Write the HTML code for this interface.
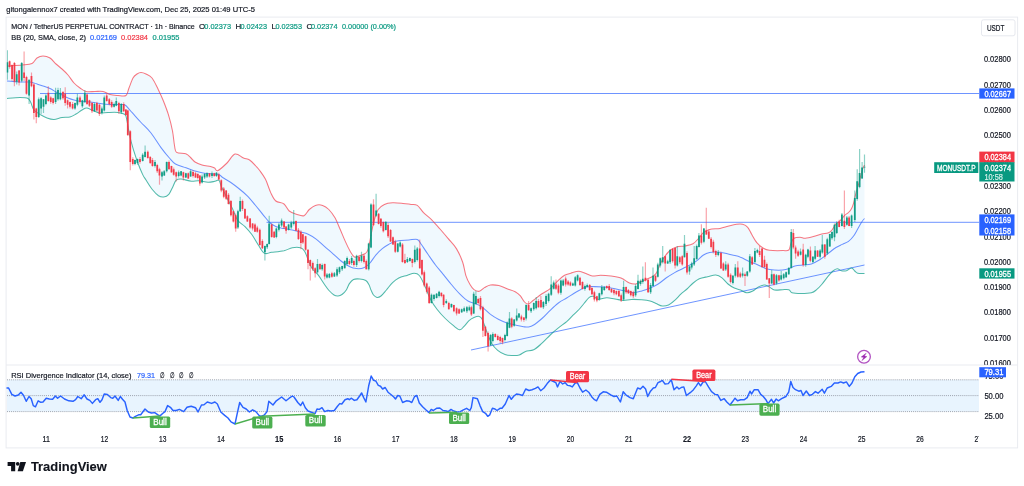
<!DOCTYPE html>
<html><head><meta charset="utf-8"><title>MONUSDT.P chart</title>
<style>html,body{margin:0;padding:0;background:#fff}body{width:1024px;height:486px;overflow:hidden}svg{display:block}</style>
</head><body>
<svg width="1024" height="486" viewBox="0 0 1024 486" font-family='"Liberation Sans", sans-serif'>
<rect width="1024" height="486" fill="#fff"/>
<defs><clipPath id="cp"><rect x="6" y="18" width="973" height="347"/></clipPath><clipPath id="ct"><rect x="7" y="430" width="972" height="17"/></clipPath><clipPath id="ca"><rect x="979" y="18" width="38" height="347"/></clipPath><filter id="bl" x="0" y="0" width="1024" height="486" filterUnits="userSpaceOnUse"><feGaussianBlur stdDeviation="0.4"/></filter></defs>
<g clip-path="url(#cp)"><g filter="url(#bl)">
<path d="M7 66C9.5 65.8 17.8 65.4 22 65C26.2 64.6 29.5 64.7 32 63.5C34.5 62.3 35.2 59.2 37 58C38.8 56.8 40.8 56 43 56C45.2 56 47.8 56.7 50 58C52.2 59.3 54 62.2 56 64C58 65.8 60 67.2 62 69C64 70.8 66 72.7 68 75C70 77.3 72 80.8 74 83C76 85.2 78 86.6 80 88C82 89.4 83.5 90.9 86 91.5C88.5 92.1 92.2 91.5 95 91.5C97.8 91.5 100.5 91 103 91.5C105.5 92 107.5 93.8 110 94.5C112.5 95.2 115.3 95.3 118 95.5C120.7 95.7 124.2 96.8 126 95.5C127.8 94.2 127.8 90.9 129 88C130.2 85.1 131.7 80.3 133 78C134.3 75.7 135.7 74.9 137 74C138.3 73.1 139.5 72.5 141 72.5C142.5 72.5 144.2 73.1 146 74C147.8 74.9 150 75.5 152 78C154 80.5 156.2 85.3 158 89C159.8 92.7 161.3 95.7 163 100C164.7 104.3 166.8 109.5 168.4 114.7C170 119.9 171.5 125.9 172.5 131C173.5 136.1 173.8 141.9 174.5 145.5C175.2 149.1 174.7 150.9 176.6 152.3C178.5 153.7 183.4 152.9 185.8 153.8C188.2 154.8 189.5 156.6 191 158C192.5 159.4 193.2 160.8 195 162C196.8 163.2 199.4 164.2 202 165C204.6 165.8 208.4 166 210.5 166.5C212.6 167 213.4 167.3 214.6 168C215.8 168.7 215.6 171.5 217.7 170.7C219.8 169.9 224.1 165.8 227 163C229.9 160.2 232.2 154.8 235 154C237.8 153.2 241.1 157 243.5 158C245.9 159 247.5 158.7 249.6 160C251.7 161.3 254.2 164.3 255.8 166C257.4 167.7 257.7 167.8 259.3 170C260.9 172.2 263.6 175.5 265.5 179.3C267.4 183.1 269 189 270.7 192.6C272.4 196.2 273.6 199.1 275.8 201C278 202.9 281.8 202.3 284 204C286.2 205.7 287.1 209.3 289.2 211C291.3 212.7 293.9 213.4 296.4 214.2C298.9 215 301.9 216.5 304 215.7C306.1 214.9 307.4 211.2 309.3 209.5C311.2 207.8 313.2 206.1 315.4 205.4C317.6 204.7 320.4 204.7 322.6 205.4C324.8 206.1 326.7 207.4 328.8 209.5C330.9 211.6 333.1 214.6 335 217.8C336.9 221.1 338.3 225.1 340 229C341.7 232.9 343.6 237.6 345.3 241.4C347 245.2 348.9 249.1 350.4 251.7C351.9 254.3 352.9 256.3 354.5 257C356.1 257.7 358 256.3 359.7 255.8C361.4 255.3 363.4 254.8 364.8 253.8C366.2 252.8 367 252.8 368 249.7C369 246.6 370 240.1 371 235.3C372 230.5 372.8 225.3 374 221C375.2 216.7 376.5 212.3 378.2 209.5C379.9 206.7 382 205.5 384.4 204.4C386.8 203.3 389.5 203 392.6 202.8C395.7 202.6 399.9 203.1 403 203.4C406.1 203.7 408.6 204.1 411 204.4C413.4 204.7 415.2 204 417.3 205.4C419.4 206.8 421.1 210.2 423.5 212.6C425.9 215 428.9 217.1 431.7 219.8C434.4 222.5 437.3 225.9 440 229C442.7 232.1 445.3 235.1 448 238.4C450.7 241.7 454 244.7 456.4 248.6C458.8 252.5 461 257.6 462.6 262C464.2 266.4 464.6 271.6 465.8 275.3C467 279.1 468.6 282.1 470 284.5C471.4 286.9 472.5 288.6 474 289.7C475.5 290.8 477.5 291.6 479.2 291.3C480.9 291 482.5 288.7 484.4 287.6C486.3 286.6 488.1 285.3 490.5 285C492.9 284.7 496.1 285 498.8 285.6C501.6 286.2 504.3 287.7 507 288.7C509.7 289.7 513 290.5 515.2 291.7C517.4 292.9 518.9 294.2 520.4 295.9C521.9 297.6 523.1 300.6 524.5 302C525.9 303.4 527.1 304.3 528.6 304C530.1 303.7 531.5 301.7 533.7 300C535.9 298.3 539.2 295.7 542 293.8C544.8 291.9 547.5 290.9 550.2 288.7C552.9 286.5 556 282.6 558.4 280.4C560.8 278.2 562.5 276.5 564.6 275.3C566.7 274.1 568.4 273.9 570.8 273.2C573.2 272.5 576.5 271.1 579 271.2C581.5 271.3 583.8 272.8 586 273.6C588.2 274.4 589.9 275.7 592.3 276C594.7 276.3 597.5 275.3 600.6 275.3C603.7 275.3 607.6 275.6 611 276C614.4 276.4 617.9 276.8 621 278C624.1 279.2 627 282 629.4 283C631.8 284 633.5 284.3 635.6 284C637.7 283.7 639.3 282.3 641.7 281.3C644.1 280.3 647.6 279.1 650 277.8C652.4 276.5 654.3 275.8 656 273.6C657.7 271.4 658.6 267.2 660 264.4C661.4 261.6 662.6 259.4 664.4 257C666.1 254.6 668.5 251.7 670.5 250C672.5 248.3 674.3 247.7 676.7 247C679.1 246.3 682.3 246.4 685 245.9C687.7 245.4 690.6 245.2 693 243.8C695.4 242.4 697.5 239.5 699.3 237.6C701 235.7 701.8 233.9 703.5 232.5C705.2 231.1 706.9 230.1 709.6 229.4C712.4 228.7 716.9 228.9 720 228.4C723.1 227.9 725.3 227 728 226.3C730.7 225.6 734 224.6 736.4 224.3C738.8 224 740.7 223.8 742.6 224.3C744.5 224.8 746.2 225.6 747.7 227.3C749.2 229 750.2 231.9 751.8 234.5C753.3 237.1 755.1 240.6 757 242.8C758.9 245.1 761 246.8 763 248C765 249.2 766 249.9 769.3 250.3C772.6 250.7 779.4 250.7 782.6 250.6C785.9 250.5 787.4 251.2 788.8 250C790.2 248.8 790 245.4 790.9 243.4C791.8 241.4 792.5 239.2 794 238.2C795.5 237.2 798.1 237.2 800 237.2C801.9 237.2 803 238.3 805.3 238.2C807.5 238.1 810.8 237.3 813.5 236.6C816.2 235.9 819.3 234.6 821.7 234C824.1 233.4 826.3 233.7 828 233C829.7 232.3 830.7 231.5 832 230C833.3 228.5 834.6 225.4 836 223.8C837.4 222.2 838.8 222.1 840.2 220.7C841.6 219.3 843 217 844.4 215.6C845.8 214.2 847.3 213.7 848.5 212.5C849.7 211.3 850.8 210 851.6 208.4C852.5 206.8 853 205.1 853.6 203.2C854.2 201.3 854.5 199.1 855 197C855.5 194.9 856 193.2 856.7 190.6C857.4 188 858.5 184.7 859.4 181.3C860.3 177.9 861.4 172.9 862.2 170.2C863.1 167.5 864.1 165.9 864.5 165L864.5 273.6C863.4 273.5 859.3 273.6 857.7 273.2C856.1 272.8 855.7 271.9 854.7 271C853.7 270.1 853 268.1 851.6 268C850.2 267.9 848.1 270.2 846.4 270.7C844.7 271.1 842.8 271 841.3 270.7C839.8 270.4 838.6 268.6 837.2 268.7C835.8 268.8 834.5 269.7 833 271C831.5 272.3 829.9 274.1 828 276.3C826.1 278.6 823.6 282.3 821.7 284.5C819.8 286.7 818.3 288.3 816.6 289.7C814.9 291.1 814 292.1 811.4 292.7C808.8 293.3 804.2 293.4 801 293.4C797.8 293.4 794 293.3 792 292.7C790 292.1 790.4 290.2 788.8 289.7C787.2 289.2 785 289.6 782.6 289.7C780.2 289.8 776.5 290.4 774.4 290C772.3 289.6 771.9 288.4 770.3 287.6C768.7 286.8 766.9 285.2 765 285C763.1 284.8 761 285.6 759 286.6C757 287.6 754.8 290 752.8 291C750.8 292 748.8 293 746.7 292.8C744.7 292.6 742.6 290.8 740.5 290C738.4 289.2 736.4 289 734.3 288C732.2 287 730 285.7 728 284C726 282.3 724 279.3 722 277.8C720 276.3 718.2 275.2 715.8 275C713.4 274.8 710.4 276.1 707.6 276.7C704.9 277.3 701.7 277.8 699.3 278.8C696.9 279.9 695.2 281.3 693.2 283C691.2 284.7 689.1 287.1 687 289C684.9 290.9 682.8 292.3 680.8 294.2C678.8 296.1 676.8 298.6 674.7 300.4C672.7 302.2 670.6 304.1 668.5 305C666.4 305.9 664.4 306.2 662.3 306C660.2 305.8 658 304.3 656 303.5C654 302.7 652.4 301.6 650 301C647.6 300.4 644.8 300.1 641.7 299.8C638.6 299.5 634.5 299.3 631.4 299.4C628.3 299.5 625.9 300.5 623.2 300.4C620.5 300.3 617.8 299.4 615 299C612.2 298.6 609.5 297.6 606.7 297.7C604 297.8 600.7 299.6 598.5 299.4C596.3 299.2 594.9 296.6 593.4 296.3C591.9 296 590.9 296.1 589.3 297.3C587.7 298.5 585.7 301.5 584 303.5C582.3 305.5 580.9 307.5 579 309.5C577.1 311.5 574.8 313.4 572.8 315.4C570.8 317.4 569.1 319.5 566.7 321.6C564.3 323.7 561.1 325.6 558.4 327.8C555.6 330 552.9 332.4 550.2 335C547.5 337.6 544.8 340.7 542 343.2C539.2 345.7 536.5 348.4 533.7 349.8C531 351.2 527.9 350.5 525.5 351.4C523.1 352.3 521.5 354.3 519.3 355C517 355.7 514.4 355.6 512 355.5C509.6 355.4 507.4 355.4 505 354.5C502.6 353.6 499.9 352.3 497.7 350.4C495.5 348.5 493.5 346.5 491.6 343.2C489.7 339.9 487.9 334.8 486.4 330.8C484.8 326.9 483.5 321.9 482.3 319.5C481.1 317.1 480.6 316.7 479.2 316.4C477.8 316.1 475.7 316.8 474 317.5C472.3 318.2 470.7 319.1 469 320.6C467.3 322.1 465.4 325.2 463.8 326.7C462.2 328.2 461.4 330 459.7 329.8C458 329.6 455.9 327.6 453.5 325.7C451.1 323.8 448.1 321.2 445.3 318.5C442.6 315.8 439.4 312.3 437 309.2C434.6 306.1 432.9 303.9 430.9 300C428.8 296.1 426.6 289.7 424.7 285.6C422.8 281.5 421.1 277.6 419.3 275.5C417.6 273.4 416.2 273.3 414.2 273.3C412.1 273.3 409.6 274.6 407 275.4C404.4 276.2 401.2 276.8 398.8 278C396.4 279.2 394.7 280.6 392.6 282.6C390.5 284.6 388.3 287.8 386.4 290C384.5 292.2 382.6 294.8 381 296C379.4 297.2 378.2 297.7 377 297.5C375.8 297.3 374.5 296.2 373.5 295C372.5 293.8 371.8 291.7 371 290C370.2 288.3 369.9 286.3 369 284.7C368.1 283.1 367.4 281.4 365.8 280.5C364.2 279.6 361.8 279.2 359.7 279C357.6 278.8 355.2 278.7 353.5 279.5C351.8 280.3 350.6 281.9 349.4 283.6C348.2 285.4 347.5 288.2 346.3 290C345.1 291.8 343.4 293.5 342 294.5C340.6 295.5 339.3 295.9 338 296C336.7 296.1 335.5 295.9 334 295C332.5 294.1 330.6 292.2 329 290.5C327.4 288.8 326.4 287.2 324.7 284.7C322.9 282.2 320.6 278.2 318.5 275.4C316.4 272.6 313.6 270.8 311.8 268C310 265.2 308.9 261.3 307.7 258.5C306.5 255.7 305.8 253.1 304.6 251.3C303.4 249.5 302.6 248.4 300.5 247.8C298.4 247.2 295.1 247.3 292.3 247.8C289.6 248.3 287.4 249.9 284 250.7C280.6 251.4 274.9 251.9 271.7 252.3C268.4 252.7 266.7 254.5 264.5 253.3C262.3 252.1 260.4 248.1 258.3 245C256.2 241.9 254.2 237.9 252 234.8C249.8 231.7 247.4 229 245 226.6C242.6 224.2 239.8 223.3 237.7 220.4C235.6 217.5 234.5 212.9 232.6 209C230.7 205.1 228.3 200.4 226.4 196.7C224.5 192.9 222.5 189.2 221.3 186.5C220.1 183.8 220.1 181.2 219 180.3C217.9 179.4 216.8 181 215 181.3C213.2 181.6 210.7 182.4 208 182.3C205.3 182.2 201.4 180.9 198.6 180.7C195.8 180.5 194.3 181.6 191.4 181.3C188.5 181 183.6 179.2 181 179C178.4 178.8 177.3 179.1 176 180.3C174.7 181.6 174.2 184.2 173 186.5C171.8 188.8 170.4 192.6 168.8 194.3C167.2 196.1 165.4 196.8 163.7 197C162 197.2 160.4 196.9 158.5 195.7C156.6 194.4 154.4 192.1 152.3 189.5C150.2 186.9 147.6 182.5 146 180C144.4 177.5 144 177.4 142.6 174.4C141.2 171.4 139 166.1 137.5 162C136 157.9 134.7 153.9 133.4 149.7C132.2 145.5 131.1 141.8 130 137C128.9 132.2 127.8 124.7 127 121C126.2 117.3 126.5 116.1 125 114.7C123.5 113.3 120.8 112.9 118 112.5C115.2 112.1 111 112.4 108 112.5C105 112.6 102.3 113.2 100 113C97.7 112.8 96.2 111.8 94 111C91.8 110.2 89 108.2 87 108C85 107.8 83.8 109 82 110C80.2 111 78 112.8 76 114C74 115.2 72.3 116.4 70 117C67.7 117.6 64.7 117.1 62 117.5C59.3 117.9 56.5 119.4 54 119.5C51.5 119.6 49.2 118.8 47 118C44.8 117.2 43.2 116.3 41 115C38.8 113.7 35.7 112 34 110C32.3 108 32 104.9 31 103C30 101.1 29.8 99.4 28 98.5C26.2 97.6 23.5 97.5 20 97.5C16.5 97.5 9.2 98.3 7 98.5z" fill="#2196f3" fill-opacity="0.06"/>
<line x1="40" y1="93.5" x2="979" y2="93.5" stroke="#2962ff" stroke-width="1" stroke-opacity="0.68"/>
<line x1="266.5" y1="222.3" x2="979" y2="222.3" stroke="#2962ff" stroke-width="1" stroke-opacity="0.68"/>
<line x1="471" y1="350" x2="864.5" y2="265" stroke="#2962ff" stroke-width="1" stroke-opacity="0.68"/>
<path d="M7 66C9.5 65.8 17.8 65.4 22 65C26.2 64.6 29.5 64.7 32 63.5C34.5 62.3 35.2 59.2 37 58C38.8 56.8 40.8 56 43 56C45.2 56 47.8 56.7 50 58C52.2 59.3 54 62.2 56 64C58 65.8 60 67.2 62 69C64 70.8 66 72.7 68 75C70 77.3 72 80.8 74 83C76 85.2 78 86.6 80 88C82 89.4 83.5 90.9 86 91.5C88.5 92.1 92.2 91.5 95 91.5C97.8 91.5 100.5 91 103 91.5C105.5 92 107.5 93.8 110 94.5C112.5 95.2 115.3 95.3 118 95.5C120.7 95.7 124.2 96.8 126 95.5C127.8 94.2 127.8 90.9 129 88C130.2 85.1 131.7 80.3 133 78C134.3 75.7 135.7 74.9 137 74C138.3 73.1 139.5 72.5 141 72.5C142.5 72.5 144.2 73.1 146 74C147.8 74.9 150 75.5 152 78C154 80.5 156.2 85.3 158 89C159.8 92.7 161.3 95.7 163 100C164.7 104.3 166.8 109.5 168.4 114.7C170 119.9 171.5 125.9 172.5 131C173.5 136.1 173.8 141.9 174.5 145.5C175.2 149.1 174.7 150.9 176.6 152.3C178.5 153.7 183.4 152.9 185.8 153.8C188.2 154.8 189.5 156.6 191 158C192.5 159.4 193.2 160.8 195 162C196.8 163.2 199.4 164.2 202 165C204.6 165.8 208.4 166 210.5 166.5C212.6 167 213.4 167.3 214.6 168C215.8 168.7 215.6 171.5 217.7 170.7C219.8 169.9 224.1 165.8 227 163C229.9 160.2 232.2 154.8 235 154C237.8 153.2 241.1 157 243.5 158C245.9 159 247.5 158.7 249.6 160C251.7 161.3 254.2 164.3 255.8 166C257.4 167.7 257.7 167.8 259.3 170C260.9 172.2 263.6 175.5 265.5 179.3C267.4 183.1 269 189 270.7 192.6C272.4 196.2 273.6 199.1 275.8 201C278 202.9 281.8 202.3 284 204C286.2 205.7 287.1 209.3 289.2 211C291.3 212.7 293.9 213.4 296.4 214.2C298.9 215 301.9 216.5 304 215.7C306.1 214.9 307.4 211.2 309.3 209.5C311.2 207.8 313.2 206.1 315.4 205.4C317.6 204.7 320.4 204.7 322.6 205.4C324.8 206.1 326.7 207.4 328.8 209.5C330.9 211.6 333.1 214.6 335 217.8C336.9 221.1 338.3 225.1 340 229C341.7 232.9 343.6 237.6 345.3 241.4C347 245.2 348.9 249.1 350.4 251.7C351.9 254.3 352.9 256.3 354.5 257C356.1 257.7 358 256.3 359.7 255.8C361.4 255.3 363.4 254.8 364.8 253.8C366.2 252.8 367 252.8 368 249.7C369 246.6 370 240.1 371 235.3C372 230.5 372.8 225.3 374 221C375.2 216.7 376.5 212.3 378.2 209.5C379.9 206.7 382 205.5 384.4 204.4C386.8 203.3 389.5 203 392.6 202.8C395.7 202.6 399.9 203.1 403 203.4C406.1 203.7 408.6 204.1 411 204.4C413.4 204.7 415.2 204 417.3 205.4C419.4 206.8 421.1 210.2 423.5 212.6C425.9 215 428.9 217.1 431.7 219.8C434.4 222.5 437.3 225.9 440 229C442.7 232.1 445.3 235.1 448 238.4C450.7 241.7 454 244.7 456.4 248.6C458.8 252.5 461 257.6 462.6 262C464.2 266.4 464.6 271.6 465.8 275.3C467 279.1 468.6 282.1 470 284.5C471.4 286.9 472.5 288.6 474 289.7C475.5 290.8 477.5 291.6 479.2 291.3C480.9 291 482.5 288.7 484.4 287.6C486.3 286.6 488.1 285.3 490.5 285C492.9 284.7 496.1 285 498.8 285.6C501.6 286.2 504.3 287.7 507 288.7C509.7 289.7 513 290.5 515.2 291.7C517.4 292.9 518.9 294.2 520.4 295.9C521.9 297.6 523.1 300.6 524.5 302C525.9 303.4 527.1 304.3 528.6 304C530.1 303.7 531.5 301.7 533.7 300C535.9 298.3 539.2 295.7 542 293.8C544.8 291.9 547.5 290.9 550.2 288.7C552.9 286.5 556 282.6 558.4 280.4C560.8 278.2 562.5 276.5 564.6 275.3C566.7 274.1 568.4 273.9 570.8 273.2C573.2 272.5 576.5 271.1 579 271.2C581.5 271.3 583.8 272.8 586 273.6C588.2 274.4 589.9 275.7 592.3 276C594.7 276.3 597.5 275.3 600.6 275.3C603.7 275.3 607.6 275.6 611 276C614.4 276.4 617.9 276.8 621 278C624.1 279.2 627 282 629.4 283C631.8 284 633.5 284.3 635.6 284C637.7 283.7 639.3 282.3 641.7 281.3C644.1 280.3 647.6 279.1 650 277.8C652.4 276.5 654.3 275.8 656 273.6C657.7 271.4 658.6 267.2 660 264.4C661.4 261.6 662.6 259.4 664.4 257C666.1 254.6 668.5 251.7 670.5 250C672.5 248.3 674.3 247.7 676.7 247C679.1 246.3 682.3 246.4 685 245.9C687.7 245.4 690.6 245.2 693 243.8C695.4 242.4 697.5 239.5 699.3 237.6C701 235.7 701.8 233.9 703.5 232.5C705.2 231.1 706.9 230.1 709.6 229.4C712.4 228.7 716.9 228.9 720 228.4C723.1 227.9 725.3 227 728 226.3C730.7 225.6 734 224.6 736.4 224.3C738.8 224 740.7 223.8 742.6 224.3C744.5 224.8 746.2 225.6 747.7 227.3C749.2 229 750.2 231.9 751.8 234.5C753.3 237.1 755.1 240.6 757 242.8C758.9 245.1 761 246.8 763 248C765 249.2 766 249.9 769.3 250.3C772.6 250.7 779.4 250.7 782.6 250.6C785.9 250.5 787.4 251.2 788.8 250C790.2 248.8 790 245.4 790.9 243.4C791.8 241.4 792.5 239.2 794 238.2C795.5 237.2 798.1 237.2 800 237.2C801.9 237.2 803 238.3 805.3 238.2C807.5 238.1 810.8 237.3 813.5 236.6C816.2 235.9 819.3 234.6 821.7 234C824.1 233.4 826.3 233.7 828 233C829.7 232.3 830.7 231.5 832 230C833.3 228.5 834.6 225.4 836 223.8C837.4 222.2 838.8 222.1 840.2 220.7C841.6 219.3 843 217 844.4 215.6C845.8 214.2 847.3 213.7 848.5 212.5C849.7 211.3 850.8 210 851.6 208.4C852.5 206.8 853 205.1 853.6 203.2C854.2 201.3 854.5 199.1 855 197C855.5 194.9 856 193.2 856.7 190.6C857.4 188 858.5 184.7 859.4 181.3C860.3 177.9 861.4 172.9 862.2 170.2C863.1 167.5 864.1 165.9 864.5 165" fill="none" stroke="#f23645" stroke-width="1.05" stroke-opacity="0.68" stroke-linejoin="round"/>
<path d="M7 98.5C9.2 98.3 16.5 97.5 20 97.5C23.5 97.5 26.2 97.6 28 98.5C29.8 99.4 30 101.1 31 103C32 104.9 32.3 108 34 110C35.7 112 38.8 113.7 41 115C43.2 116.3 44.8 117.2 47 118C49.2 118.8 51.5 119.6 54 119.5C56.5 119.4 59.3 117.9 62 117.5C64.7 117.1 67.7 117.6 70 117C72.3 116.4 74 115.2 76 114C78 112.8 80.2 111 82 110C83.8 109 85 107.8 87 108C89 108.2 91.8 110.2 94 111C96.2 111.8 97.7 112.8 100 113C102.3 113.2 105 112.6 108 112.5C111 112.4 115.2 112.1 118 112.5C120.8 112.9 123.5 113.3 125 114.7C126.5 116.1 126.2 117.3 127 121C127.8 124.7 128.9 132.2 130 137C131.1 141.8 132.2 145.5 133.4 149.7C134.7 153.9 136 157.9 137.5 162C139 166.1 141.2 171.4 142.6 174.4C144 177.4 144.4 177.5 146 180C147.6 182.5 150.2 186.9 152.3 189.5C154.4 192.1 156.6 194.4 158.5 195.7C160.4 196.9 162 197.2 163.7 197C165.4 196.8 167.2 196.1 168.8 194.3C170.4 192.6 171.8 188.8 173 186.5C174.2 184.2 174.7 181.6 176 180.3C177.3 179.1 178.4 178.8 181 179C183.6 179.2 188.5 181 191.4 181.3C194.3 181.6 195.8 180.5 198.6 180.7C201.4 180.9 205.3 182.2 208 182.3C210.7 182.4 213.2 181.6 215 181.3C216.8 181 217.9 179.4 219 180.3C220.1 181.2 220.1 183.8 221.3 186.5C222.5 189.2 224.5 192.9 226.4 196.7C228.3 200.4 230.7 205.1 232.6 209C234.5 212.9 235.6 217.5 237.7 220.4C239.8 223.3 242.6 224.2 245 226.6C247.4 229 249.8 231.7 252 234.8C254.2 237.9 256.2 241.9 258.3 245C260.4 248.1 262.3 252.1 264.5 253.3C266.7 254.5 268.4 252.7 271.7 252.3C274.9 251.9 280.6 251.4 284 250.7C287.4 249.9 289.6 248.3 292.3 247.8C295.1 247.3 298.4 247.2 300.5 247.8C302.6 248.4 303.4 249.5 304.6 251.3C305.8 253.1 306.5 255.7 307.7 258.5C308.9 261.3 310 265.2 311.8 268C313.6 270.8 316.4 272.6 318.5 275.4C320.6 278.2 322.9 282.2 324.7 284.7C326.4 287.2 327.4 288.8 329 290.5C330.6 292.2 332.5 294.1 334 295C335.5 295.9 336.7 296.1 338 296C339.3 295.9 340.6 295.5 342 294.5C343.4 293.5 345.1 291.8 346.3 290C347.5 288.2 348.2 285.4 349.4 283.6C350.6 281.9 351.8 280.3 353.5 279.5C355.2 278.7 357.6 278.8 359.7 279C361.8 279.2 364.2 279.6 365.8 280.5C367.4 281.4 368.1 283.1 369 284.7C369.9 286.3 370.2 288.3 371 290C371.8 291.7 372.5 293.8 373.5 295C374.5 296.2 375.8 297.3 377 297.5C378.2 297.7 379.4 297.2 381 296C382.6 294.8 384.5 292.2 386.4 290C388.3 287.8 390.5 284.6 392.6 282.6C394.7 280.6 396.4 279.2 398.8 278C401.2 276.8 404.4 276.2 407 275.4C409.6 274.6 412.1 273.3 414.2 273.3C416.2 273.3 417.6 273.4 419.3 275.5C421.1 277.6 422.8 281.5 424.7 285.6C426.6 289.7 428.8 296.1 430.9 300C432.9 303.9 434.6 306.1 437 309.2C439.4 312.3 442.6 315.8 445.3 318.5C448.1 321.2 451.1 323.8 453.5 325.7C455.9 327.6 458 329.6 459.7 329.8C461.4 330 462.2 328.2 463.8 326.7C465.4 325.2 467.3 322.1 469 320.6C470.7 319.1 472.3 318.2 474 317.5C475.7 316.8 477.8 316.1 479.2 316.4C480.6 316.7 481.1 317.1 482.3 319.5C483.5 321.9 484.8 326.9 486.4 330.8C487.9 334.8 489.7 339.9 491.6 343.2C493.5 346.5 495.5 348.5 497.7 350.4C499.9 352.3 502.6 353.6 505 354.5C507.4 355.4 509.6 355.4 512 355.5C514.4 355.6 517 355.7 519.3 355C521.5 354.3 523.1 352.3 525.5 351.4C527.9 350.5 531 351.2 533.7 349.8C536.5 348.4 539.2 345.7 542 343.2C544.8 340.7 547.5 337.6 550.2 335C552.9 332.4 555.6 330 558.4 327.8C561.1 325.6 564.3 323.7 566.7 321.6C569.1 319.5 570.8 317.4 572.8 315.4C574.8 313.4 577.1 311.5 579 309.5C580.9 307.5 582.3 305.5 584 303.5C585.7 301.5 587.7 298.5 589.3 297.3C590.9 296.1 591.9 296 593.4 296.3C594.9 296.6 596.3 299.2 598.5 299.4C600.7 299.6 604 297.8 606.7 297.7C609.5 297.6 612.2 298.6 615 299C617.8 299.4 620.5 300.3 623.2 300.4C625.9 300.5 628.3 299.5 631.4 299.4C634.5 299.3 638.6 299.5 641.7 299.8C644.8 300.1 647.6 300.4 650 301C652.4 301.6 654 302.7 656 303.5C658 304.3 660.2 305.8 662.3 306C664.4 306.2 666.4 305.9 668.5 305C670.6 304.1 672.7 302.2 674.7 300.4C676.8 298.6 678.8 296.1 680.8 294.2C682.8 292.3 684.9 290.9 687 289C689.1 287.1 691.2 284.7 693.2 283C695.2 281.3 696.9 279.9 699.3 278.8C701.7 277.8 704.9 277.3 707.6 276.7C710.4 276.1 713.4 274.8 715.8 275C718.2 275.2 720 276.3 722 277.8C724 279.3 726 282.3 728 284C730 285.7 732.2 287 734.3 288C736.4 289 738.4 289.2 740.5 290C742.6 290.8 744.7 292.6 746.7 292.8C748.8 293 750.8 292 752.8 291C754.8 290 757 287.6 759 286.6C761 285.6 763.1 284.8 765 285C766.9 285.2 768.7 286.8 770.3 287.6C771.9 288.4 772.3 289.6 774.4 290C776.5 290.4 780.2 289.8 782.6 289.7C785 289.6 787.2 289.2 788.8 289.7C790.4 290.2 790 292.1 792 292.7C794 293.3 797.8 293.4 801 293.4C804.2 293.4 808.8 293.3 811.4 292.7C814 292.1 814.9 291.1 816.6 289.7C818.3 288.3 819.8 286.7 821.7 284.5C823.6 282.3 826.1 278.6 828 276.3C829.9 274.1 831.5 272.3 833 271C834.5 269.7 835.8 268.8 837.2 268.7C838.6 268.6 839.8 270.4 841.3 270.7C842.8 271 844.7 271.1 846.4 270.7C848.1 270.2 850.2 267.9 851.6 268C853 268.1 853.7 270.1 854.7 271C855.7 271.9 856.1 272.8 857.7 273.2C859.3 273.6 863.4 273.5 864.5 273.6" fill="none" stroke="#089981" stroke-width="1.05" stroke-opacity="0.68" stroke-linejoin="round"/>
<path d="M7 81C9.2 81.2 16.2 81.8 20 82C23.8 82.2 27.2 81.7 30 82C32.8 82.3 34.8 83.3 37 84C39.2 84.7 40.8 85.2 43 86C45.2 86.8 47.8 87.5 50 88.5C52.2 89.5 54 90.9 56 92C58 93.1 60 94 62 95C64 96 66 97.2 68 98C70 98.8 71.7 99.4 74 100C76.3 100.6 79.3 101.2 82 101.5C84.7 101.8 87 101.7 90 102C93 102.3 96.7 103.1 100 103.5C103.3 103.9 106.7 104.3 110 104.5C113.3 104.7 117.5 104.4 120 104.5C122.5 104.6 123.3 104 125 105C126.7 106 127.7 107.8 130.3 110.6C132.9 113.4 137.2 118.3 140.6 122C144 125.7 147.6 128.7 151 133C154.4 137.3 157.9 143.4 161 147.6C164.1 151.8 167 155.3 169.4 158C171.8 160.7 172.7 162.4 175.5 164C178.3 165.6 182.6 166.6 186 167.8C189.4 169 192.9 170.4 196 171.3C199.1 172.2 201.6 172.9 204.4 173.3C207.2 173.8 210.2 173.8 212.6 174C215 174.2 217.2 173.9 218.8 174.4C220.4 174.9 220.4 175.9 222.3 177.2C224.2 178.5 227.8 180.4 230.5 182.3C233.2 184.2 236.1 186.3 238.8 188.5C241.6 190.7 244.3 192.9 247 195.7C249.7 198.4 252.4 201.7 255.2 205C257.9 208.3 261.1 212.4 263.5 215.3C265.9 218.2 267.6 220.6 269.6 222.5C271.7 224.4 273.4 225.6 275.8 226.6C278.2 227.6 281.2 228 284 228.6C286.8 229.2 289.6 229.4 292.3 230C295.1 230.6 297.9 231.3 300.5 232C303.1 232.7 305.5 233 308.2 234.2C310.9 235.4 313.8 237.3 316.5 239.4C319.2 241.5 321.9 244.2 324.7 246.6C327.4 249 330.3 251.4 333 253.8C335.7 256.2 338.3 258.9 341 261C343.7 263.1 346.8 265.2 349.4 266.5C352 267.8 354.2 268.4 356.6 268.6C359 268.8 361.6 268.7 363.8 267.8C366 266.9 368 265.2 370 263C372 260.8 373.9 257.2 376 254.8C378.1 252.4 380.2 250.3 382.3 248.6C384.4 246.9 386.4 245.7 388.5 244.5C390.6 243.3 392.6 242.1 394.7 241.4C396.8 240.7 398.4 240.6 400.8 240.4C403.2 240.2 406.2 240.2 409 240C411.8 239.8 415.2 238.7 417.3 239.4C419.4 240.2 419.7 242.1 421.4 244.5C423.1 246.9 425.2 250.4 427.6 253.8C430 257.2 432.9 261.6 435.5 265C438.1 268.4 440.6 271.1 443.2 274.3C445.8 277.6 448.6 281.2 451.4 284.5C454.1 287.8 456.9 291.1 459.7 293.8C462.5 296.6 465.3 299.3 468 301C470.7 302.7 473.6 303 476 304C478.4 305 479.9 305.5 482.3 307.2C484.7 308.9 487.8 312.3 490.5 314.4C493.2 316.4 496.1 318.1 498.8 319.5C501.6 320.9 504.3 322.1 507 323C509.7 323.9 512.5 324.4 515.2 325C518 325.6 521.3 326.4 523.5 326.7C525.7 327 526.9 327.3 528.6 327C530.3 326.7 531.5 326.4 533.7 325C535.9 323.6 539.2 320.9 542 318.5C544.8 316.1 547.5 312.9 550.2 310.3C552.9 307.7 555.6 305.1 558.4 303C561.1 300.9 563.9 299.7 566.7 298C569.5 296.3 572.8 294.1 575 292.8C577.2 291.5 578.2 291 580 290C581.8 289 583.6 287.6 586 287C588.4 286.4 591.3 286.6 594.4 286.6C597.5 286.6 601.3 286.6 604.7 287C608.1 287.4 611.6 288 615 288.7C618.4 289.4 622.2 290.3 625.3 291C628.4 291.7 630.8 292.8 633.5 292.8C636.2 292.8 639 291.8 641.7 291C644.5 290.2 647.2 289.2 650 288C652.8 286.8 655.5 285.7 658.2 284C660.9 282.3 663.6 279.7 666.4 277.8C669.1 275.9 671.9 274.2 674.7 272.6C677.5 271.1 680.3 269.9 683 268.5C685.7 267.1 688.6 265.8 691 264.4C693.4 263 695.2 261.9 697.3 260.3C699.4 258.7 701.5 256.3 703.5 255C705.5 253.7 707.6 252.9 709.6 252.4C711.6 251.9 713.4 251.9 715.8 252C718.2 252.1 721.2 252.5 724 253C726.8 253.5 729.5 254.3 732.3 255C735 255.7 737.8 256.1 740.5 257.2C743.2 258.2 746 260.1 748.7 261.3C751.5 262.5 754.1 263.2 757 264.4C759.9 265.6 763.3 267.8 766.2 268.7C769.1 269.6 771.7 269.8 774.4 270C777.1 270.2 780.2 270.2 782.6 270C785 269.8 786.7 269.4 788.8 268.7C790.9 268 792.6 266.6 795 266C797.4 265.4 800.5 265.3 803.2 265C805.9 264.7 808.6 264.9 811.4 264C814.1 263.1 816.9 261.5 819.7 259.8C822.5 258.1 825.3 255.7 828 253.6C830.7 251.5 833.6 249 836 247.5C838.4 246 840.2 245.4 842.3 244.4C844.4 243.4 846.6 242.7 848.5 241.3C850.4 239.9 852.1 238.1 853.6 236C855.1 233.9 856.3 231.4 857.7 229C859.1 226.6 860.8 223.4 861.9 221.7C863 219.9 864.1 219 864.5 218.5" fill="none" stroke="#2962ff" stroke-width="1.05" stroke-opacity="0.68" stroke-linejoin="round"/>
<path d="M7.4 50.2V79.8M16.7 71.5V84.4M21.7 61.9V82.3M29.1 79.5V103.9M38.7 97.6V117.9M41.1 97.3V114.1M43.5 98.9V113.1M45.9 94.2V105.3M55.6 87.8V104M58 87.8V100.7M60.4 88.1V100.2M75 102.4V109.8M77.4 93.7V106.3M82.4 99.8V107.7M84.8 90V103.1M94.4 102.5V112M101.9 106.5V114.6M104.3 95.6V111.6M114.1 102.6V107.5M116.3 97.4V106.3M121.3 103.1V114.1M135 159.6V165.2M137.5 158.5V164.7M142.6 153.3V161.6M145.1 145.6V157.5M155 160V167.6M162 171V180.5M164.2 169.9V176M166.7 161.4V172.5M178.6 170.4V177.5M181.1 170.9V176.2M185.8 172.8V178M190.6 169.7V176.8M202.1 174.5V183.4M204.6 173.1V179.1M207 172.3V178M212 171.4V177.9M216.5 172.1V177.1M237.9 209.8V228.9M240.2 196.7V211.9M264.9 245.5V260.5M267.2 243.5V249M269.2 215.7V244.5M276.4 227.4V238.3M278.9 222.7V231.6M281.6 218.4V226.9M288.6 223.7V230.5M291.2 220.8V229M293.7 210.1V225.4M317.5 258.9V273.4M322.2 263.6V270.8M327 273.1V278.6M329.4 272.9V278.3M334.4 271.9V276.9M337 267.3V277M339.5 266.4V273.9M342.2 265.7V271M344.7 260.2V268.6M347.1 256.5V265.4M351.6 256V265M356.6 254.7V266.9M361.5 251.7V262.4M368.7 242.7V270.5M371 203.3V248.3M376.1 193.7V217.1M385.8 221.1V230.5M397.7 243V252.5M400.2 241.2V247.4M407.4 257V263M409.9 257.5V261.8M414.8 245.6V263.6M417.3 247V261.6M431.5 293.6V303.5M434 294.4V300.7M436.6 293V298.5M439.1 290.7V297.6M446.3 299.3V304M451.4 303.5V307.8M461.7 308.5V313.1M464.2 306.6V311.8M466.9 305.9V313M469.3 305.5V311.2M473.7 291.7V313.9M475.9 290.7V304.4M490.5 334V345.9M492.8 332.2V342.6M504.9 333.8V341.6M507.2 321.5V336.6M509.5 311.9V328.3M514.2 318.9V326.7M516.7 308.6V321.5M518.9 312.9V318.3M526.1 304.2V320.5M531.1 307.5V313M533.7 302.4V310.8M536.2 296.9V309.6M543.4 301.1V309.1M546.1 294.3V305.9M548.6 292.7V302.6M551.2 276.3V295.9M553.7 280.6V289.6M560.9 279.4V294.7M563.2 278.9V286.2M572.8 282.4V285.9M575.3 276V286.6M577.6 274.3V281.5M584.9 284.4V290.7M587.2 283.6V287.6M599.3 292.8V300.7M601.8 285V295.6M604.3 286.1V291.1M623.6 280.8V300.6M635.6 284.2V296.7M638 274.7V289.6M640.5 279.5V285.8M642.8 266.4V283.7M650.6 283V293.9M653 267.5V286.3M657.8 262.7V277.6M660.2 257.4V267.4M662.7 245.9V263.4M667.7 259.8V263.9M670.1 248.9V264.1M677.3 245.9V266.5M684.5 235V257.6M689.5 265.4V274.7M691.7 261.8V269.4M694.2 245.9V266.1M696.7 244.4V259.6M698.9 233.1V247.4M703.9 228V243.3M718.3 250V256.2M725.7 261.3V271M732.9 275V284.4M735.3 264V277.5M742.6 267.5V277.5M747.3 271.1V276.7M749.8 254.1V272.8M754.9 247.9V262.6M757.4 248.7V253.2M771.7 270.1V283.8M776.5 273.9V284.8M781.2 271.1V280.4M783.7 273V279.6M786.1 271.4V278M788.8 266.9V274.9M791.3 229V268.4M800.5 248.5V255.6M805.7 253.8V266.8M807.9 248.8V258.2M812.9 256V263M815.1 246V260.3M820.1 249.1V258.6M822.3 235.1V253.8M827.3 237.8V254.8M829.8 233.7V246.8M832 231.2V239.7M834.5 223.4V241.3M836.7 221.3V233.9M841.9 213.1V226.6M846.8 215.9V225.7M851.6 214.5V227.9M854.8 190.6V222M857.2 169.3V200.8M859.6 149V188.3M862.1 162V178.8M864.5 154.6V172.8" stroke="#089981" stroke-width="1.2" stroke-opacity="0.45" fill="none"/>
<path d="M6.5 62.2h1.76V72.4h-1.76zM15.8 74.3h1.76V81.7h-1.76zM20.8 63.1h1.76V80.7h-1.76zM28.2 79.8h1.76V95.6h-1.76zM37.8 99.3h1.76V116.9h-1.76zM40.2 98.3h1.76V108.5h-1.76zM42.6 99.3h1.76V106.7h-1.76zM45 95.6h1.76V103.9h-1.76zM54.7 92.8h1.76V102h-1.76zM57.1 90h1.76V99.3h-1.76zM59.5 92.8h1.76V99.3h-1.76zM74.1 103h1.76V108.5h-1.76zM76.5 97.4h1.76V104.8h-1.76zM81.5 100.2h1.76V106.3h-1.76zM83.9 92.8h1.76V102h-1.76zM93.6 103.9h1.76V111.3h-1.76zM101 108.5h1.76V113.1h-1.76zM103.4 97.4h1.76V110.4h-1.76zM113.2 103.9h1.76V106.7h-1.76zM115.4 101.1h1.76V105.7h-1.76zM120.4 103.9h1.76V112.2h-1.76zM134.1 160h1.76V164.1h-1.76zM136.6 158.9h1.76V163h-1.76zM141.8 154.8h1.76V161h-1.76zM144.2 151.7h1.76V156.9h-1.76zM154.1 162h1.76V166.1h-1.76zM161.1 172.3h1.76V176.4h-1.76zM163.4 171.3h1.76V175.4h-1.76zM165.8 162h1.76V171.3h-1.76zM177.8 172.3h1.76V176h-1.76zM180.2 171.3h1.76V175.4h-1.76zM185 173.3h1.76V177.4h-1.76zM189.7 171.3h1.76V176.4h-1.76zM201.2 176.4h1.76V182.6h-1.76zM203.7 174h1.76V177.4h-1.76zM206.2 173.3h1.76V176.4h-1.76zM211.1 173.3h1.76V176h-1.76zM215.6 172.7h1.76V176h-1.76zM237.1 211.2h1.76V227.6h-1.76zM239.3 200.9h1.76V211.2h-1.76zM264 246.1h1.76V252.3h-1.76zM266.3 244.1h1.76V247.2h-1.76zM268.3 223.5h1.76V244.1h-1.76zM275.5 228.6h1.76V236.9h-1.76zM278 224.5h1.76V229.7h-1.76zM280.7 220.4h1.76V225.6h-1.76zM287.7 224.5h1.76V229.7h-1.76zM290.4 222.5h1.76V227.6h-1.76zM292.8 221.4h1.76V223.9h-1.76zM316.6 264.1h1.76V272.3h-1.76zM321.3 265.1h1.76V269.2h-1.76zM326.1 274.4h1.76V277.4h-1.76zM328.5 274h1.76V277.4h-1.76zM333.5 273.3h1.76V276.4h-1.76zM336.2 269.2h1.76V275.4h-1.76zM338.6 267.2h1.76V272.3h-1.76zM341.3 266.1h1.76V269.2h-1.76zM343.8 261h1.76V268.2h-1.76zM346.2 257.9h1.76V264.1h-1.76zM350.8 257.9h1.76V263h-1.76zM355.7 255.8h1.76V265.1h-1.76zM360.6 255.8h1.76V261h-1.76zM367.8 243.5h1.76V269.2h-1.76zM370.1 204.4h1.76V247.6h-1.76zM375.3 210.6h1.76V215.7h-1.76zM384.9 221.9h1.76V230.1h-1.76zM396.9 243.5h1.76V251.7h-1.76zM399.3 242.5h1.76V246.6h-1.76zM406.5 258.9h1.76V262h-1.76zM409 257.9h1.76V261h-1.76zM413.9 249.7h1.76V262h-1.76zM416.4 248.6h1.76V260h-1.76zM430.6 294.8h1.76V303.1h-1.76zM433.1 294.8h1.76V299h-1.76zM435.7 293.8h1.76V297.9h-1.76zM438.2 291.7h1.76V295.9h-1.76zM445.4 301h1.76V303.1h-1.76zM450.6 304.1h1.76V307.2h-1.76zM460.8 309.2h1.76V312.3h-1.76zM463.3 308.2h1.76V311.3h-1.76zM466 307.2h1.76V311.3h-1.76zM468.5 307.2h1.76V310.3h-1.76zM472.8 293.8h1.76V313.4h-1.76zM475 295.9h1.76V304.1h-1.76zM489.7 335h1.76V345.2h-1.76zM491.9 333.9h1.76V341.1h-1.76zM504.1 335h1.76V340.1h-1.76zM506.3 322.6h1.76V336h-1.76zM508.6 318.5h1.76V327.8h-1.76zM513.3 319.5h1.76V325.7h-1.76zM515.8 315.4h1.76V320.6h-1.76zM518.1 313.4h1.76V317.5h-1.76zM525.3 305.1h1.76V318.5h-1.76zM530.2 308.2h1.76V311.3h-1.76zM532.9 303.1h1.76V309.2h-1.76zM535.3 301h1.76V308.2h-1.76zM542.5 302h1.76V307.2h-1.76zM545.2 295.9h1.76V304.1h-1.76zM547.7 293.8h1.76V301h-1.76zM550.4 284.5h1.76V294.8h-1.76zM552.8 282.5h1.76V288.7h-1.76zM560 280.4h1.76V292.8h-1.76zM562.3 280.4h1.76V285.6h-1.76zM572 283.5h1.76V285.6h-1.76zM574.4 277.3h1.76V285.6h-1.76zM576.7 275.3h1.76V280.4h-1.76zM584.1 286h1.76V289.1h-1.76zM586.3 285h1.76V287h-1.76zM598.5 293.2h1.76V299.4h-1.76zM600.9 287h1.76V294.2h-1.76zM603.4 287h1.76V290.1h-1.76zM622.7 287h1.76V299.4h-1.76zM634.7 286h1.76V295.2h-1.76zM637.1 280.8h1.76V289.1h-1.76zM639.6 280.8h1.76V283.9h-1.76zM641.9 278.8h1.76V281.9h-1.76zM649.7 285h1.76V292.2h-1.76zM652.2 275.7h1.76V286h-1.76zM656.9 264.4h1.76V276.7h-1.76zM659.4 258.2h1.76V265.4h-1.76zM661.8 257.2h1.76V262.3h-1.76zM666.8 261.3h1.76V263.4h-1.76zM669.2 250h1.76V262.3h-1.76zM676.4 256.2h1.76V265.4h-1.76zM683.6 243.8h1.76V257.2h-1.76zM688.6 266.4h1.76V271.6h-1.76zM690.8 263.4h1.76V267.5h-1.76zM693.3 258.2h1.76V264.4h-1.76zM695.8 245.9h1.76V259.2h-1.76zM698.1 235.6h1.76V246.9h-1.76zM703 228.4h1.76V241.7h-1.76zM717.4 252h1.76V255.1h-1.76zM724.8 264.4h1.76V269.5h-1.76zM732 275.7h1.76V282.9h-1.76zM734.5 267.5h1.76V275.7h-1.76zM741.7 273.6h1.76V275.7h-1.76zM746.4 271.6h1.76V275.7h-1.76zM748.9 256.2h1.76V271.6h-1.76zM754 251h1.76V262.3h-1.76zM756.5 250h1.76V252.4h-1.76zM770.8 274.2h1.76V283.5h-1.76zM775.6 275.2h1.76V283.5h-1.76zM780.3 275.2h1.76V279.4h-1.76zM782.8 274.2h1.76V278.3h-1.76zM785.3 272.2h1.76V277.3h-1.76zM787.9 268h1.76V274.2h-1.76zM790.4 232h1.76V268h-1.76zM799.7 251.6h1.76V254.7h-1.76zM804.8 254.7h1.76V265h-1.76zM807.1 249.5h1.76V256.7h-1.76zM812 256.7h1.76V261.9h-1.76zM814.3 250.6h1.76V258.8h-1.76zM819.2 250.6h1.76V256.7h-1.76zM821.5 244.4h1.76V252.6h-1.76zM826.4 239.2h1.76V253.6h-1.76zM828.9 234.1h1.76V246.4h-1.76zM831.1 232h1.76V238.2h-1.76zM833.6 224.8h1.76V237.2h-1.76zM835.9 222.8h1.76V233.1h-1.76zM841 214.5h1.76V225.9h-1.76zM846 217.6h1.76V224.8h-1.76zM850.7 215.6h1.76V225.9h-1.76zM853.9 198h1.76V220h-1.76zM856.3 181.3h1.76V199h-1.76zM858.7 173h1.76V187h-1.76zM861.2 167.4h1.76V178.5h-1.76zM863.6 166.8h1.76V167.6h-1.76z" fill="#089981" fill-opacity="0.95"/>
<path d="M9.6 60.4V68.7M12 64.6V80.7M14.4 61.9V86.3M19.1 70V85.4M24.1 51.5V81.1M26.5 75.8V94.7M31.5 72.4V87.3M33.9 83.2V119.6M36.3 107.8V123.3M48.3 86.3V101.8M50.7 96.2V103.8M53.1 97.8V104.4M63 91.1V99.7M65.2 87.2V105.7M67.6 99.5V108.5M70 101.6V108.6M72.6 102.1V109.6M80 95.7V103.6M87 93.5V104.9M89.4 99.8V107.1M92 101.9V113.1M96.9 101.7V111.7M99.4 103.9V115.9M106.7 93.7V101.8M109.3 98V105.4M111.7 100.3V108.1M118.9 101.8V114.1M123.7 102.2V112M125.9 109.1V115.7M127.8 109.7V135.6M130.3 130.2V170.2M132.8 157.2V165.5M140 157V163.8M147.8 150.6V158.7M150.2 155.9V163.9M152.5 158.1V166.7M157.2 163.7V173M159.5 167.8V184.7M169 160.4V169.6M171.4 165.8V173M173.7 167.4V175.8M176.2 171.4V181.6M183.4 171.7V180.5M188.3 172.6V179M193 170.2V177.6M195.5 171.8V178.1M197.8 173.3V179.4M199.8 175.1V185.7M209.5 173V177.6M214.2 172.8V176.7M218.8 172.8V180.4M221.3 179.2V192.2M223.7 187.1V198.2M226.2 190V199.9M228.5 193.1V204.4M230.9 200.1V216.6M233.4 210.7V222.5M235.7 213.4V231.7M242.5 199.6V211M244.9 208.3V218.8M247.4 215.2V222M250.1 217.9V228.7M252.6 223V230.6M255 223.2V232.1M257.3 225.7V232.7M259.8 228.5V245.8M262.4 239.3V248.9M271.7 223.7V237.8M274.2 230.7V238M284 221.1V229.1M286.1 226.1V233.8M296 220.6V231.1M298.4 228V240.1M300.9 230.3V249.2M302.9 233.8V244M305.6 235.8V250.7M308 249.2V269.2M310.3 259.4V280.5M312.8 261.5V270.9M315.2 267.3V277.4M320 263.3V269.8M324.7 263.4V279.5M331.9 271.7V277.8M349.4 259.1V265.2M353.9 259.5V266.7M359.1 255.6V262.4M364 254.4V263.6M366.3 259.5V269.6M373.5 199.3V226.1M378.6 212.9V224.5M380.9 218.1V227.8M383.3 221.5V232.5M388.1 223.1V238M390.5 229.1V242.1M393 236.4V244.9M395.3 239.7V252.9M402.5 243V262.8M404.9 253.8V264.1M412.3 258.5V267.2M419.8 239.4V268.7M422 259.5V275.4M424.3 270.6V287.2M426.7 282.4V293.4M429.2 286.1V304M441.4 292.4V297.2M443.6 294.2V307.2M448.8 301.7V309.6M453.9 304.8V312.3M456.6 307.2V315.4M459.1 308.3V313.9M471.4 305.7V315.9M478.2 297.8V304.7M480.5 296V310.5M482.9 305.8V337M485.4 325.7V336.6M488.1 331.4V351.4M495.3 333.2V337.6M497.7 334.4V340.5M500.2 335.7V342.9M502.5 337.5V344.2M511.7 317.2V328.2M521.4 314.7V321.5M523.9 317.1V321.7M528.6 301V310.7M538.5 299.1V307.8M540.9 295.9V307.9M556 279.4V290.1M558.4 283.8V294.2M565.6 276.4V286.5M568.1 280V285.7M570.4 281.2V286.3M580 276.7V286.1M582.5 281.3V289.4M589.7 283.9V291M591.9 286.5V295M594.4 290.7V301.4M596.9 295.7V302.2M606.7 285.6V289M609.2 284V291M611.5 288V292.9M614 288.7V295.2M616.4 290.5V295.3M618.9 290V296.9M621.2 293.6V302M626.1 286.6V293.7M628.4 289V294M630.8 290.4V296.4M633.3 290.7V298.1M645.4 262.3V281.6M648.1 278.7V292.9M655.5 275.2V282.1M665.2 255.8V271.6M672.6 247.9V262.7M675.1 247.2V268.5M679.8 255.9V264.1M682.3 255.2V265.7M687 251.2V274.4M701.4 224.3V244.4M706.3 207.8V235M708.8 229.6V239.1M711.1 236.9V248.6M713.3 239.8V253.6M715.8 249.7V257M720.9 251.4V269.1M723.4 262.2V271.1M728.1 262.8V277.7M730.6 273.2V283.4M737.8 261.3V277.7M740.3 271.7V277.9M745 272.4V286M752.2 255.9V265M759.6 245.9V257.1M762.1 247.9V268.1M764.5 255.7V268.3M766.8 262.4V279.7M769.3 278V297.9M774 273.4V285.4M778.9 274.7V281.8M793.3 229V249.2M795.6 245.5V258.8M798.1 249.7V256.9M803.2 243.8V266.8M810.4 246.4V262.2M817.6 250.2V257.1M824.8 244V258.8M839.2 219.8V227.2M844.4 190.5V229M849.1 215.9V226.2" stroke="#f23645" stroke-width="1.2" stroke-opacity="0.45" fill="none"/>
<path d="M8.7 61.3h1.76V66.9h-1.76zM11.2 65h1.76V78.9h-1.76zM13.6 63.1h1.76V81.7h-1.76zM18.2 70.6h1.76V82.6h-1.76zM23.2 72.4h1.76V78h-1.76zM25.6 77h1.76V93.7h-1.76zM30.6 76.1h1.76V86.3h-1.76zM33 84.4h1.76V113.1h-1.76zM35.4 108.5h1.76V116.9h-1.76zM47.5 92.8h1.76V101.1h-1.76zM49.9 97.4h1.76V102h-1.76zM52.3 98.3h1.76V103h-1.76zM62.1 91.9h1.76V98.3h-1.76zM64.3 93.7h1.76V103h-1.76zM66.7 100.2h1.76V104.8h-1.76zM69.1 102h1.76V106.7h-1.76zM71.7 103.9h1.76V108.5h-1.76zM79.1 97.4h1.76V102h-1.76zM86.2 94.6h1.76V103.9h-1.76zM88.6 100.2h1.76V105.7h-1.76zM91.2 103h1.76V111.3h-1.76zM96 103h1.76V110.4h-1.76zM98.6 104.8h1.76V114.1h-1.76zM105.8 95.6h1.76V101.1h-1.76zM108.4 99.3h1.76V103.9h-1.76zM110.8 102h1.76V106.7h-1.76zM118 103h1.76V111.3h-1.76zM122.8 103.9h1.76V111.3h-1.76zM125 109.4h1.76V115h-1.76zM126.9 110.6h1.76V135.3h-1.76zM129.4 131.2h1.76V162h-1.76zM131.9 158.9h1.76V164.1h-1.76zM139.1 158.9h1.76V162h-1.76zM146.9 151.7h1.76V157.9h-1.76zM149.4 156.9h1.76V163h-1.76zM151.6 160h1.76V166.1h-1.76zM156.4 165.1h1.76V171.3h-1.76zM158.6 169.2h1.76V175.4h-1.76zM168.1 162h1.76V169.2h-1.76zM170.6 166.1h1.76V172.3h-1.76zM172.8 169.2h1.76V174.8h-1.76zM175.3 172.3h1.76V176.4h-1.76zM182.5 172.3h1.76V177.4h-1.76zM187.4 173.3h1.76V178.5h-1.76zM192.2 171.9h1.76V176h-1.76zM194.6 173.3h1.76V177.4h-1.76zM196.9 174h1.76V178.1h-1.76zM199 175.4h1.76V183.6h-1.76zM208.6 173.3h1.76V176.4h-1.76zM213.4 173.3h1.76V176h-1.76zM217.9 174.4h1.76V179.5h-1.76zM220.4 180.3h1.76V190.6h-1.76zM222.9 188.5h1.76V196.7h-1.76zM225.3 190.6h1.76V198.8h-1.76zM227.6 194.7h1.76V204h-1.76zM230.1 200.9h1.76V215.3h-1.76zM232.5 211.2h1.76V221.4h-1.76zM234.8 215.3h1.76V228.6h-1.76zM241.6 200.9h1.76V209.1h-1.76zM244.1 209.1h1.76V218.4h-1.76zM246.5 216.3h1.76V221.4h-1.76zM249.2 218.4h1.76V227.6h-1.76zM251.7 223.5h1.76V228.6h-1.76zM254.1 224.5h1.76V231.7h-1.76zM256.4 227.6h1.76V231.7h-1.76zM258.9 229.7h1.76V245.1h-1.76zM261.5 241h1.76V248.2h-1.76zM270.8 224.5h1.76V236.9h-1.76zM273.3 231.7h1.76V237.5h-1.76zM283.2 221.4h1.76V227.6h-1.76zM285.2 226.6h1.76V230.7h-1.76zM295.1 221h1.76V230.7h-1.76zM297.6 229.7h1.76V238.9h-1.76zM300 231.7h1.76V243h-1.76zM302 234.2h1.76V242.5h-1.76zM304.7 236.3h1.76V249.7h-1.76zM307.1 249.7h1.76V263h-1.76zM309.4 260h1.76V266.1h-1.76zM311.9 263h1.76V269.2h-1.76zM314.3 268.2h1.76V273.3h-1.76zM319.1 264.1h1.76V269.2h-1.76zM323.8 264.1h1.76V276.4h-1.76zM331 273.3h1.76V276.8h-1.76zM348.5 261h1.76V264.1h-1.76zM353 261h1.76V265.1h-1.76zM358.2 256.9h1.76V261h-1.76zM363.1 255.8h1.76V262h-1.76zM365.4 261h1.76V269.2h-1.76zM372.6 204.4h1.76V225h-1.76zM377.7 213.7h1.76V224h-1.76zM380 218.8h1.76V226h-1.76zM382.5 221.9h1.76V231.2h-1.76zM387.2 225h1.76V236.3h-1.76zM389.7 230.1h1.76V241.4h-1.76zM392.1 237.3h1.76V244.5h-1.76zM394.4 241.4h1.76V251.7h-1.76zM401.6 244.5h1.76V262h-1.76zM404.1 260h1.76V263h-1.76zM411.5 258.9h1.76V263h-1.76zM418.9 248.6h1.76V268.2h-1.76zM421.1 260h1.76V274.4h-1.76zM423.4 272.2h1.76V285.6h-1.76zM425.9 283.5h1.76V291.7h-1.76zM428.3 287.6h1.76V303.1h-1.76zM440.5 292.8h1.76V295.9h-1.76zM442.7 294.8h1.76V305.1h-1.76zM447.9 303.1h1.76V309.2h-1.76zM453 305.1h1.76V311.3h-1.76zM455.7 308.2h1.76V313.4h-1.76zM458.2 309.2h1.76V313.4h-1.76zM470.5 307.2h1.76V314.4h-1.76zM477.3 299h1.76V303.1h-1.76zM479.6 297.9h1.76V309.2h-1.76zM482 307.2h1.76V330.8h-1.76zM484.5 326.7h1.76V336h-1.76zM487.2 332.9h1.76V346.3h-1.76zM494.4 333.9h1.76V337h-1.76zM496.9 336h1.76V340.1h-1.76zM499.3 337h1.76V341.1h-1.76zM501.6 338h1.76V342.2h-1.76zM510.8 318.5h1.76V326.7h-1.76zM520.5 316.4h1.76V319.5h-1.76zM523 317.5h1.76V320.1h-1.76zM527.7 305.1h1.76V310.3h-1.76zM537.6 301h1.76V307.2h-1.76zM540.1 300h1.76V307.2h-1.76zM555.1 284.5h1.76V288.7h-1.76zM557.6 285.6h1.76V292.8h-1.76zM564.8 278.4h1.76V284.5h-1.76zM567.2 281.5h1.76V284.5h-1.76zM569.5 282.5h1.76V285.6h-1.76zM579.1 277.8h1.76V285h-1.76zM581.6 281.9h1.76V289.1h-1.76zM588.8 285h1.76V290.1h-1.76zM591.1 288h1.76V294.2h-1.76zM593.5 292.2h1.76V299.4h-1.76zM596 296.3h1.76V300.4h-1.76zM605.9 286h1.76V288h-1.76zM608.3 286h1.76V290.1h-1.76zM610.6 289.1h1.76V292.2h-1.76zM613.1 290.1h1.76V293.2h-1.76zM615.5 291.1h1.76V294.2h-1.76zM618 291.1h1.76V296.3h-1.76zM620.3 295.2h1.76V300.4h-1.76zM625.2 287h1.76V292.2h-1.76zM627.5 290.1h1.76V293.2h-1.76zM629.9 291.1h1.76V295.2h-1.76zM632.4 292.2h1.76V296.3h-1.76zM644.6 277.8h1.76V280.8h-1.76zM647.2 279.8h1.76V292.2h-1.76zM654.6 275.7h1.76V280.8h-1.76zM664.3 256.2h1.76V263.4h-1.76zM671.7 249h1.76V261.3h-1.76zM674.2 247.9h1.76V265.4h-1.76zM678.9 257.2h1.76V262.3h-1.76zM681.4 256.2h1.76V264.4h-1.76zM686.1 253.1h1.76V272.6h-1.76zM700.5 235.6h1.76V242.8h-1.76zM705.5 230.4h1.76V234.5h-1.76zM707.9 231.5h1.76V238.7h-1.76zM710.2 238.7h1.76V246.9h-1.76zM712.5 241.7h1.76V252h-1.76zM714.9 251h1.76V255.1h-1.76zM720.1 253.1h1.76V268.5h-1.76zM722.5 263.4h1.76V270.6h-1.76zM727.3 264.4h1.76V276.7h-1.76zM729.7 274.7h1.76V281.9h-1.76zM736.9 267.5h1.76V276.7h-1.76zM739.4 273.6h1.76V276.7h-1.76zM744.1 274.3h1.76V275.9h-1.76zM751.3 257.2h1.76V264.4h-1.76zM758.7 251h1.76V255.1h-1.76zM761.2 248.5h1.76V267h-1.76zM763.6 259.8h1.76V267h-1.76zM765.9 263.9h1.76V279.4h-1.76zM768.4 278.3h1.76V283.5h-1.76zM773.1 274.2h1.76V284.5h-1.76zM778.1 275.2h1.76V280.4h-1.76zM792.5 233.1h1.76V247.5h-1.76zM794.7 247.5h1.76V253.6h-1.76zM797.2 251.6h1.76V255.7h-1.76zM802.3 249.5h1.76V265h-1.76zM809.5 250.6h1.76V260.8h-1.76zM816.7 250.6h1.76V256.7h-1.76zM823.9 244.4h1.76V256.7h-1.76zM838.3 221.7h1.76V226.9h-1.76zM843.5 220.7h1.76V226.9h-1.76zM848.2 217.6h1.76V225.9h-1.76z" fill="#f23645" fill-opacity="0.95"/>
</g></g>
<rect x="6.1" y="17.1" width="1011.5" height="430.8" fill="none" stroke="#e9ebf0" stroke-width="1"/>
<line x1="6.1" y1="365" x2="1017.6" y2="365" stroke="#e9ebf0" stroke-width="1"/>
<rect x="7" y="379.8" width="972" height="31.8" fill="#2196f3" fill-opacity="0.1"/>
<line x1="7" y1="379.8" x2="979" y2="379.8" stroke="#787b86" stroke-width="0.9" stroke-dasharray="1 1.05" stroke-opacity="0.75"/>
<line x1="7" y1="395.6" x2="979" y2="395.6" stroke="#787b86" stroke-width="0.9" stroke-dasharray="1 1.05" stroke-opacity="0.75"/>
<line x1="7" y1="411.6" x2="979" y2="411.6" stroke="#787b86" stroke-width="0.9" stroke-dasharray="1 1.05" stroke-opacity="0.75"/>
<polyline points="6.5,388 8.6,388 11.8,394.4 15,396 18.3,395 21,392.2 23.6,395.5 26.2,401.3 29,396.5 31.2,398.7 33.3,405.6 35.5,406.8 38.2,400.8 40.8,402.3 43,402 46.2,398.2 49.4,399 52.6,399.3 55.4,396 57.6,398.2 60.6,396 64.5,399 68.8,400.8 73,401.3 75.6,399.7 77.8,396.5 81.2,398.7 84.2,394.8 87,399 89.8,400.4 92.4,403.4 95.6,399.7 97.8,398.7 100,402.3 102,399.7 104.2,394 107.4,394.4 110.7,397.6 112.8,398.2 115,396 118.2,400.4 120.3,396.5 122.5,399.3 125,402 127.2,410.5 130,417 132.8,418 135.4,416.3 138.6,414.8 140.7,414.8 145,409 148.3,412 151.5,413 154.7,412.6 158,414.8 160,415.9 162.9,413.3 165,411.6 167.6,405.6 170.8,407.7 173,410.5 176.2,410.5 179.4,409.4 183.7,411.6 187,407.3 191.2,406.2 195.5,407.7 198,412 201.5,405 204,404.7 207.3,402 211.6,403.4 214.9,402 217.4,404 218.3,406.2 220.8,412 224.7,415.4 228,418 231,421.9 235,424 237.2,413.7 239.7,402.5 243,407.3 246.2,409 249.4,412 252.6,409.8 255.9,411.6 259,415.4 261.2,416.3 264.5,414.8 267,411.6 268.8,401.3 273,405 276.3,400.8 281.6,397 286,400.8 289.2,398.2 292.4,396 294,397 297.8,402.5 300.6,405.6 302.7,402 305.3,407.7 308,411 311.3,412.2 315,413.7 317,409 319.3,409.4 322,407.7 324.6,411.6 327.8,410.5 331,411 334.3,410.5 337.5,406.2 339.7,403.6 341.8,404 345,399.7 347.8,398.7 349.3,399.7 351.5,398.2 354.3,400.4 356.9,399.7 360,395.5 361.6,392.9 363.7,397.6 365.9,402 368.7,385.8 371.2,376 373.6,380.4 375.8,381 378.3,385.4 380.5,386.2 382.6,389 385.2,387.5 388,392.2 391.2,394.8 393.8,397 395.5,399 397.7,395.5 399.8,396 402.6,402.5 406.4,400.8 409.7,401.3 411.8,402.5 414.6,396.5 416.8,395.5 419.3,403 422.6,406.8 425.8,409.8 429,412.6 431.2,409.4 433.3,410.5 436.5,408.3 439.8,408 443,410.5 446.2,411 448.3,411.6 451,409.4 453.7,411 457,412 460.2,411.6 463.4,409.8 466.6,408.3 469.8,410.5 471.3,407.7 473,397.6 477.4,398.7 480,405.6 482.7,411.6 485.5,413.3 487.7,416.3 489.8,414.8 492.4,408.3 495,409 497,410.5 500,408.3 502,408.3 505.3,404 509,395.5 511.3,399.3 513.9,396 516.5,394 519.3,394.4 522.5,395.5 525.7,389 529,390.5 532,389.7 535.4,388.4 538,386.9 540.7,390.7 544,388 547.2,383.6 550.4,380 553.6,381.5 555.8,382.6 557.5,386.9 560,381.5 562.7,384 565,382.6 567.6,385.4 570.2,385.8 572.3,386.9 575,383.2 577.3,382.6 580,388 582.6,392.2 585.9,390 588.7,392.2 592.3,397.6 594.5,399.7 596.6,400.8 599.8,394.4 603.2,391.8 606.4,392.2 610.7,394.8 614,396.5 616.8,396 620.4,402 623.2,391.8 625.8,394.8 630,397.6 633.3,398.7 637.6,388 640.4,389 643,386.2 645.6,389 647.7,396.5 650.5,391.2 653.3,388 655.4,387.5 658,382.6 660.6,381.5 662.3,380.4 665,384 668.3,383.6 671.3,379.8 674,389.7 677,386.9 679,389 681.2,387.5 683.8,386.9 686.4,395.5 690.2,392.7 693.5,389.7 696.3,385.8 698.4,382.6 700.6,385.8 703,382 705.3,381.5 708.5,386.9 711.7,391.8 715,394.4 717.7,394.8 720.8,400.4 724.2,398.7 726.8,402 730,405 732.8,401.3 735,398.2 737.5,400.8 740.7,399.7 744.4,399.7 747.2,397.6 750,391.2 751.5,394 754.3,389.7 758,389.7 760.7,394.4 763.3,396.5 765.9,399.7 768,403.6 771.5,399.3 773.6,403 776.2,399 778.3,400.8 781.6,398.7 785.9,396.5 788.7,392.2 790.8,381.5 793,387.5 795.5,389.7 798.8,391.2 801,390.5 803,395.5 806.3,391 809.5,395.5 812.4,394.3 815.4,391.6 818,393.2 822.2,389.3 824.4,393.2 827.2,388 831.2,386.4 834.4,383 838,383 840.7,381.9 843.5,383 846.4,381.9 849.3,386.4 852,383 854.8,376.7 857.7,373.5 861,372 864.5,371.7" fill="none" stroke="#2962ff" stroke-width="1.45" stroke-linejoin="round"/>
<line x1="132.8" y1="418" x2="160" y2="416" stroke="#4caf50" stroke-width="1.4"/>
<rect x="149.8" y="416.6" width="20.4" height="11.5" rx="1.6" fill="#4caf50"/>
<text x="153.3" y="424.7" font-size="8.6" fill="#fff" text-anchor="start" font-weight="normal" textLength="13.4" lengthAdjust="spacingAndGlyphs" stroke="#fff" stroke-width="0.3">Bull</text>
<line x1="235" y1="424" x2="261.2" y2="416.3" stroke="#4caf50" stroke-width="1.4"/>
<rect x="252.2" y="416.6" width="20.2" height="11.9" rx="1.6" fill="#4caf50"/>
<text x="255.6" y="424.9" font-size="8.6" fill="#fff" text-anchor="start" font-weight="normal" textLength="13.4" lengthAdjust="spacingAndGlyphs" stroke="#fff" stroke-width="0.3">Bull</text>
<line x1="261.2" y1="416.3" x2="315" y2="414" stroke="#4caf50" stroke-width="1.4"/>
<rect x="305.3" y="415" width="20.4" height="11.5" rx="1.6" fill="#4caf50"/>
<text x="308.8" y="423.1" font-size="8.6" fill="#fff" text-anchor="start" font-weight="normal" textLength="13.4" lengthAdjust="spacingAndGlyphs" stroke="#fff" stroke-width="0.3">Bull</text>
<line x1="429" y1="413" x2="457" y2="412.2" stroke="#4caf50" stroke-width="1.4"/>
<rect x="449" y="412.6" width="20.2" height="11.5" rx="1.6" fill="#4caf50"/>
<text x="452.4" y="420.7" font-size="8.6" fill="#fff" text-anchor="start" font-weight="normal" textLength="13.4" lengthAdjust="spacingAndGlyphs" stroke="#fff" stroke-width="0.3">Bull</text>
<line x1="550.4" y1="380" x2="577.3" y2="382.6" stroke="#f23645" stroke-width="1.4"/>
<rect x="566" y="371" width="23" height="11.3" rx="1.6" fill="#f23645"/>
<text x="569.8" y="379" font-size="8.6" fill="#fff" text-anchor="start" font-weight="normal" textLength="15.4" lengthAdjust="spacingAndGlyphs" stroke="#fff" stroke-width="0.3">Bear</text>
<line x1="671.3" y1="379.3" x2="705.3" y2="381.5" stroke="#f23645" stroke-width="1.4"/>
<rect x="692.4" y="369.6" width="23" height="11.5" rx="1.6" fill="#f23645"/>
<text x="696.2" y="377.7" font-size="8.6" fill="#fff" text-anchor="start" font-weight="normal" textLength="15.4" lengthAdjust="spacingAndGlyphs" stroke="#fff" stroke-width="0.3">Bear</text>
<line x1="730" y1="405" x2="768" y2="403.6" stroke="#4caf50" stroke-width="1.4"/>
<rect x="759.4" y="403.6" width="20.2" height="12.1" rx="1.6" fill="#4caf50"/>
<text x="762.8" y="412" font-size="8.6" fill="#fff" text-anchor="start" font-weight="normal" textLength="13.4" lengthAdjust="spacingAndGlyphs" stroke="#fff" stroke-width="0.3">Bull</text>
<circle cx="864" cy="356.8" r="6.35" fill="#fff" stroke="#a334b6" stroke-width="1.3" stroke-opacity="0.85"/>
<path d="M866.3 353.1L861.1 357L863.7 357.5L861.8 360.7L867 356.5L864.4 356Z" fill="#9c27b0" stroke="#9c27b0" stroke-width="0.3" stroke-linejoin="round"/>
<g clip-path="url(#ca)">
<text x="983.9" y="62.4" font-size="8.4" fill="#131722" text-anchor="start" font-weight="normal" textLength="27" lengthAdjust="spacingAndGlyphs" stroke="#131722" stroke-width="0.2">0.02800</text>
<text x="983.9" y="87.7" font-size="8.4" fill="#131722" text-anchor="start" font-weight="normal" textLength="27" lengthAdjust="spacingAndGlyphs" stroke="#131722" stroke-width="0.2">0.02700</text>
<text x="983.9" y="113" font-size="8.4" fill="#131722" text-anchor="start" font-weight="normal" textLength="27" lengthAdjust="spacingAndGlyphs" stroke="#131722" stroke-width="0.2">0.02600</text>
<text x="983.9" y="138.3" font-size="8.4" fill="#131722" text-anchor="start" font-weight="normal" textLength="27" lengthAdjust="spacingAndGlyphs" stroke="#131722" stroke-width="0.2">0.02500</text>
<text x="983.9" y="163.6" font-size="8.4" fill="#131722" text-anchor="start" font-weight="normal" textLength="27" lengthAdjust="spacingAndGlyphs" stroke="#131722" stroke-width="0.2">0.02400</text>
<text x="983.9" y="188.9" font-size="8.4" fill="#131722" text-anchor="start" font-weight="normal" textLength="27" lengthAdjust="spacingAndGlyphs" stroke="#131722" stroke-width="0.2">0.02300</text>
<text x="983.9" y="214.2" font-size="8.4" fill="#131722" text-anchor="start" font-weight="normal" textLength="27" lengthAdjust="spacingAndGlyphs" stroke="#131722" stroke-width="0.2">0.02200</text>
<text x="983.9" y="239.5" font-size="8.4" fill="#131722" text-anchor="start" font-weight="normal" textLength="27" lengthAdjust="spacingAndGlyphs" stroke="#131722" stroke-width="0.2">0.02100</text>
<text x="983.9" y="264.7" font-size="8.4" fill="#131722" text-anchor="start" font-weight="normal" textLength="27" lengthAdjust="spacingAndGlyphs" stroke="#131722" stroke-width="0.2">0.02000</text>
<text x="983.9" y="290" font-size="8.4" fill="#131722" text-anchor="start" font-weight="normal" textLength="27" lengthAdjust="spacingAndGlyphs" stroke="#131722" stroke-width="0.2">0.01900</text>
<text x="983.9" y="315.3" font-size="8.4" fill="#131722" text-anchor="start" font-weight="normal" textLength="27" lengthAdjust="spacingAndGlyphs" stroke="#131722" stroke-width="0.2">0.01800</text>
<text x="983.9" y="340.6" font-size="8.4" fill="#131722" text-anchor="start" font-weight="normal" textLength="27" lengthAdjust="spacingAndGlyphs" stroke="#131722" stroke-width="0.2">0.01700</text>
<text x="983.9" y="365.9" font-size="8.4" fill="#131722" text-anchor="start" font-weight="normal" textLength="27" lengthAdjust="spacingAndGlyphs" stroke="#131722" stroke-width="0.2">0.01600</text>
</g>
<rect x="979.3" y="88.4" width="35.2" height="10.2" fill="#2962ff"/>
<text x="984.4" y="96.5" font-size="8.4" fill="#fff" text-anchor="start" font-weight="normal" textLength="26.6" lengthAdjust="spacingAndGlyphs" stroke="#fff" stroke-width="0.3">0.02667</text>
<rect x="979.3" y="151.6" width="35.2" height="11" fill="#f23645"/>
<text x="984.4" y="160" font-size="8.4" fill="#fff" text-anchor="start" font-weight="normal" textLength="26.6" lengthAdjust="spacingAndGlyphs" stroke="#fff" stroke-width="0.3">0.02384</text>
<rect x="979.3" y="162.2" width="35.2" height="19.3" fill="#089981"/>
<text x="984.4" y="170.6" font-size="8.4" fill="#fff" text-anchor="start" font-weight="normal" textLength="26.6" lengthAdjust="spacingAndGlyphs" stroke="#fff" stroke-width="0.3">0.02374</text>
<text x="984.4" y="180.1" font-size="8.4" fill="#d5efe9" text-anchor="start" font-weight="normal" textLength="18.5" lengthAdjust="spacingAndGlyphs" stroke="#d5efe9" stroke-width="0.2">10:58</text>
<rect x="934.2" y="162.2" width="44.1" height="10.8" fill="#089981"/>
<text x="937" y="170.6" font-size="8.2" fill="#fff" text-anchor="start" font-weight="normal" textLength="38.5" lengthAdjust="spacingAndGlyphs" stroke="#fff" stroke-width="0.3">MONUSDT.P</text>
<rect x="979.3" y="214.4" width="35.2" height="21.1" fill="#2962ff"/>
<text x="984.4" y="222.9" font-size="8.4" fill="#fff" text-anchor="start" font-weight="normal" textLength="26.6" lengthAdjust="spacingAndGlyphs" stroke="#fff" stroke-width="0.3">0.02169</text>
<text x="984.4" y="233.5" font-size="8.4" fill="#fff" text-anchor="start" font-weight="normal" textLength="26.6" lengthAdjust="spacingAndGlyphs" stroke="#fff" stroke-width="0.3">0.02158</text>
<rect x="979.3" y="268.3" width="35.2" height="10.3" fill="#089981"/>
<text x="984.4" y="276.5" font-size="8.4" fill="#fff" text-anchor="start" font-weight="normal" textLength="26.6" lengthAdjust="spacingAndGlyphs" stroke="#fff" stroke-width="0.3">0.01955</text>
<rect x="981.5" y="19.8" width="33.5" height="16" rx="2" fill="#fff" stroke="#e6e8ee" stroke-width="1"/>
<text x="986.9" y="31" font-size="8.2" fill="#131722" text-anchor="start" font-weight="normal" textLength="17.5" lengthAdjust="spacingAndGlyphs" stroke="#131722" stroke-width="0.2">USDT</text>
<text x="984.4" y="378.5" font-size="8.4" fill="#131722" text-anchor="start" font-weight="normal" textLength="19" lengthAdjust="spacingAndGlyphs" stroke="#131722" stroke-width="0.2">75.00</text>
<text x="984.4" y="398.6" font-size="8.4" fill="#131722" text-anchor="start" font-weight="normal" textLength="19" lengthAdjust="spacingAndGlyphs" stroke="#131722" stroke-width="0.2">50.00</text>
<text x="984.4" y="418.7" font-size="8.4" fill="#131722" text-anchor="start" font-weight="normal" textLength="19" lengthAdjust="spacingAndGlyphs" stroke="#131722" stroke-width="0.2">25.00</text>
<rect x="979.3" y="367.2" width="26.7" height="10.1" fill="#2962ff"/>
<text x="984.4" y="375.3" font-size="8.4" fill="#fff" text-anchor="start" font-weight="normal" textLength="19" lengthAdjust="spacingAndGlyphs" stroke="#fff" stroke-width="0.3">79.31</text>
<g clip-path="url(#ct)">
<text x="42.5" y="441.8" font-size="8.3" fill="#131722" text-anchor="start" font-weight="normal" textLength="7.4" lengthAdjust="spacingAndGlyphs" stroke="#131722" stroke-width="0.2">11</text>
<text x="100.8" y="441.8" font-size="8.3" fill="#131722" text-anchor="start" font-weight="normal" textLength="7.4" lengthAdjust="spacingAndGlyphs" stroke="#131722" stroke-width="0.2">12</text>
<text x="159" y="441.8" font-size="8.3" fill="#131722" text-anchor="start" font-weight="normal" textLength="7.4" lengthAdjust="spacingAndGlyphs" stroke="#131722" stroke-width="0.2">13</text>
<text x="217.2" y="441.8" font-size="8.3" fill="#131722" text-anchor="start" font-weight="normal" textLength="7.4" lengthAdjust="spacingAndGlyphs" stroke="#131722" stroke-width="0.2">14</text>
<text x="275.1" y="441.8" font-size="8.3" fill="#131722" text-anchor="start" font-weight="bold" textLength="8.2" lengthAdjust="spacingAndGlyphs" stroke="#131722" stroke-width="0.12">15</text>
<text x="333.8" y="441.8" font-size="8.3" fill="#131722" text-anchor="start" font-weight="normal" textLength="7.4" lengthAdjust="spacingAndGlyphs" stroke="#131722" stroke-width="0.2">16</text>
<text x="392" y="441.8" font-size="8.3" fill="#131722" text-anchor="start" font-weight="normal" textLength="7.4" lengthAdjust="spacingAndGlyphs" stroke="#131722" stroke-width="0.2">17</text>
<text x="450.2" y="441.8" font-size="8.3" fill="#131722" text-anchor="start" font-weight="normal" textLength="7.4" lengthAdjust="spacingAndGlyphs" stroke="#131722" stroke-width="0.2">18</text>
<text x="508.5" y="441.8" font-size="8.3" fill="#131722" text-anchor="start" font-weight="normal" textLength="7.4" lengthAdjust="spacingAndGlyphs" stroke="#131722" stroke-width="0.2">19</text>
<text x="566.8" y="441.8" font-size="8.3" fill="#131722" text-anchor="start" font-weight="normal" textLength="7.4" lengthAdjust="spacingAndGlyphs" stroke="#131722" stroke-width="0.2">20</text>
<text x="625" y="441.8" font-size="8.3" fill="#131722" text-anchor="start" font-weight="normal" textLength="7.4" lengthAdjust="spacingAndGlyphs" stroke="#131722" stroke-width="0.2">21</text>
<text x="682.9" y="441.8" font-size="8.3" fill="#131722" text-anchor="start" font-weight="bold" textLength="8.2" lengthAdjust="spacingAndGlyphs" stroke="#131722" stroke-width="0.12">22</text>
<text x="741.5" y="441.8" font-size="8.3" fill="#131722" text-anchor="start" font-weight="normal" textLength="7.4" lengthAdjust="spacingAndGlyphs" stroke="#131722" stroke-width="0.2">23</text>
<text x="799.8" y="441.8" font-size="8.3" fill="#131722" text-anchor="start" font-weight="normal" textLength="7.4" lengthAdjust="spacingAndGlyphs" stroke="#131722" stroke-width="0.2">24</text>
<text x="858" y="441.8" font-size="8.3" fill="#131722" text-anchor="start" font-weight="normal" textLength="7.4" lengthAdjust="spacingAndGlyphs" stroke="#131722" stroke-width="0.2">25</text>
<text x="916.2" y="441.8" font-size="8.3" fill="#131722" text-anchor="start" font-weight="normal" textLength="7.4" lengthAdjust="spacingAndGlyphs" stroke="#131722" stroke-width="0.2">26</text>
<text x="974.5" y="441.8" font-size="8.3" fill="#131722" text-anchor="start" font-weight="normal" textLength="7.4" lengthAdjust="spacingAndGlyphs" stroke="#131722" stroke-width="0.2">27</text>
</g>
<text x="6.3" y="12.3" font-size="8.0" fill="#131722" text-anchor="start" font-weight="normal" textLength="248.7" lengthAdjust="spacingAndGlyphs" stroke="#131722" stroke-width="0.2">gitongalennox7 created with TradingView.com, Dec 25, 2025 01:49 UTC-5</text>
<text x="11.3" y="28.9" font-size="8.0" fill="#131722" text-anchor="start" font-weight="normal" textLength="183.4" lengthAdjust="spacingAndGlyphs" stroke="#131722" stroke-width="0.2">MON / TetherUS PERPETUAL CONTRACT · 1h · Binance</text>
<text x="199" y="28.9" font-size="8.0" fill="#131722" text-anchor="start" font-weight="normal" stroke="#131722" stroke-width="0.2">O</text>
<text x="204.3" y="28.9" font-size="8.0" fill="#089981" text-anchor="start" font-weight="normal" textLength="26.7" lengthAdjust="spacingAndGlyphs" stroke="#089981" stroke-width="0.2">0.02373</text>
<text x="235.5" y="28.9" font-size="8.0" fill="#131722" text-anchor="start" font-weight="normal" stroke="#131722" stroke-width="0.2">H</text>
<text x="240.5" y="28.9" font-size="8.0" fill="#089981" text-anchor="start" font-weight="normal" textLength="26.5" lengthAdjust="spacingAndGlyphs" stroke="#089981" stroke-width="0.2">0.02423</text>
<text x="271.5" y="28.9" font-size="8.0" fill="#131722" text-anchor="start" font-weight="normal" stroke="#131722" stroke-width="0.2">L</text>
<text x="275.5" y="28.9" font-size="8.0" fill="#089981" text-anchor="start" font-weight="normal" textLength="26.5" lengthAdjust="spacingAndGlyphs" stroke="#089981" stroke-width="0.2">0.02353</text>
<text x="306.5" y="28.9" font-size="8.0" fill="#131722" text-anchor="start" font-weight="normal" stroke="#131722" stroke-width="0.2">C</text>
<text x="311" y="28.9" font-size="8.0" fill="#089981" text-anchor="start" font-weight="normal" textLength="26.5" lengthAdjust="spacingAndGlyphs" stroke="#089981" stroke-width="0.2">0.02374</text>
<text x="342" y="28.9" font-size="8.0" fill="#089981" text-anchor="start" font-weight="normal" textLength="54" lengthAdjust="spacingAndGlyphs" stroke="#089981" stroke-width="0.2">0.00000 (0.00%)</text>
<text x="11.3" y="40.3" font-size="8.0" fill="#131722" text-anchor="start" font-weight="normal" textLength="74.7" lengthAdjust="spacingAndGlyphs" stroke="#131722" stroke-width="0.2">BB (20, SMA, close, 2)</text>
<text x="90" y="40.3" font-size="8.0" fill="#2962ff" text-anchor="start" font-weight="normal" textLength="27" lengthAdjust="spacingAndGlyphs" stroke="#2962ff" stroke-width="0.2">0.02169</text>
<text x="121" y="40.3" font-size="8.0" fill="#f23645" text-anchor="start" font-weight="normal" textLength="27" lengthAdjust="spacingAndGlyphs" stroke="#f23645" stroke-width="0.2">0.02384</text>
<text x="152.5" y="40.3" font-size="8.0" fill="#089981" text-anchor="start" font-weight="normal" textLength="27" lengthAdjust="spacingAndGlyphs" stroke="#089981" stroke-width="0.2">0.01955</text>
<text x="11.2" y="377.5" font-size="8.0" fill="#131722" text-anchor="start" font-weight="normal" textLength="120.3" lengthAdjust="spacingAndGlyphs" stroke="#131722" stroke-width="0.2">RSI Divergence Indicator (14, close)</text>
<text x="137" y="377.5" font-size="8.0" fill="#2962ff" text-anchor="start" font-weight="normal" textLength="18" lengthAdjust="spacingAndGlyphs" stroke="#2962ff" stroke-width="0.2">79.31</text>
<text x="160" y="377.5" font-size="8.0" fill="#131722" text-anchor="start" font-weight="normal" textLength="4.6" lengthAdjust="spacingAndGlyphs" stroke="#131722" stroke-width="0.2">∅</text>
<text x="169.6" y="377.5" font-size="8.0" fill="#131722" text-anchor="start" font-weight="normal" textLength="4.6" lengthAdjust="spacingAndGlyphs" stroke="#131722" stroke-width="0.2">∅</text>
<text x="179.3" y="377.5" font-size="8.0" fill="#131722" text-anchor="start" font-weight="normal" textLength="4.6" lengthAdjust="spacingAndGlyphs" stroke="#131722" stroke-width="0.2">∅</text>
<text x="189.2" y="377.5" font-size="8.0" fill="#131722" text-anchor="start" font-weight="normal" textLength="4.6" lengthAdjust="spacingAndGlyphs" stroke="#131722" stroke-width="0.2">∅</text>
<g fill="#10131c"><path d="M7.6 462H15.2V471.3H11.1V466H7.6Z"/><circle cx="17.7" cy="463.85" r="1.85"/><path d="M20.3 462H26L22.9 471.3H17.6Z"/></g>
<text x="30.9" y="471.4" font-size="13" fill="#10131c" text-anchor="start" font-weight="bold" textLength="76" lengthAdjust="spacingAndGlyphs" stroke="#10131c" stroke-width="0.12">TradingView</text>
</svg>
</body></html>
